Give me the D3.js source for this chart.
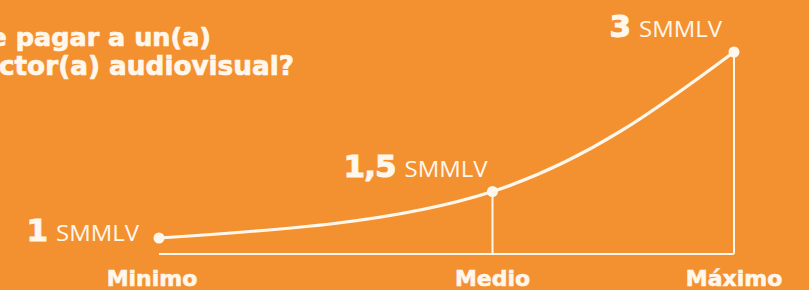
<!DOCTYPE html>
<html>
<head>
<meta charset="utf-8">
<script src="https://cdn.jsdelivr.net/npm/d3@7"></script>
<style>
  html, body { margin: 0; padding: 0; background: #F39130; }
  svg { display: block; }
</style>
</head>
<body>
<svg id="chart" width="809" height="290"></svg>
<script>
// ---- data ----
const categories = ["Minimo", "Medio", "Máximo"];
const values = [1, 1.5, 3];
const valueLabels = ["1", "1,5", "3"];
const unitLabel = "SMMLV";
const stagePosition = [0, 0.58, 1];   // relative place of each stage along the axis
const titleLines = ["¿Cuánto se debe pagar a un(a)", "director(a) audiovisual?"];

// ---- layout ----
const W = 809, H = 290;
const bg = "#F39130", ink = "#FFF7EC";
const baseY = 254;
const svg = d3.select("#chart");
svg.append("rect").attr("width", W).attr("height", H).attr("fill", bg);

const x = d3.scaleLinear().domain([0, 1]).range([159, 734]);
const y = d3.scaleLinear().domain([1, 3]).range([238, 52]);

const pts = values.map((v, i) => ({ v, i, px: x(stagePosition[i]), py: y(v) }));

// title (cut off at the left edge, as in the original crop)
const title = svg.append("g")
  .attr("font-family", "'DejaVu Sans', sans-serif")
  .attr("font-weight", "bold")
  .attr("fill", ink)
  .attr("stroke", ink)
  .attr("stroke-width", 0.7)
  .attr("stroke-linejoin", "round")
  .attr("text-anchor", "end");
title.append("text").attr("x", 211).attr("y", 46).attr("font-size", 25.5).text(titleLines[0]);
title.append("text").attr("x", 294).attr("y", 75).attr("font-size", 26.3).text(titleLines[1]);

// baseline
svg.append("line")
  .attr("x1", x(0)).attr("x2", x(1))
  .attr("y1", baseY).attr("y2", baseY)
  .attr("stroke", ink).attr("stroke-width", 2);

// drop lines
svg.selectAll("line.drop").data(pts.filter(d => d.i > 0)).join("line")
  .attr("class", "drop")
  .attr("x1", d => d.px).attr("x2", d => d.px)
  .attr("y1", d => d.py).attr("y2", baseY)
  .attr("stroke", ink).attr("stroke-width", 2);

// curve
const line = d3.line().x(d => d.px).y(d => d.py).curve(d3.curveNatural);
svg.append("path").datum(pts)
  .attr("d", line)
  .attr("fill", "none")
  .attr("stroke", ink)
  .attr("stroke-width", 3.2)
  .attr("stroke-linecap", "round");

// dots
svg.selectAll("circle").data(pts).join("circle")
  .attr("cx", d => d.px).attr("cy", d => d.py).attr("r", 5.5)
  .attr("fill", ink);

// value labels
const lbl = svg.selectAll("text.val").data(pts).join("text")
  .attr("class", "val")
  .attr("text-anchor", "end")
  .attr("fill", ink)
  .attr("x", d => d.i === 0 ? d.px - 20 : d.px - (d.i === 1 ? 5 : 12))
  .attr("y", d => d.i === 0 ? d.py + 3 : d.py - 15);
lbl.append("tspan")
  .attr("font-family", "'DejaVu Sans', sans-serif")
  .attr("font-weight", "bold")
  .attr("font-size", 31)
  .attr("stroke", ink)
  .attr("stroke-width", 1)
  .attr("letter-spacing", -1)
  .text(d => valueLabels[d.i]);
lbl.append("tspan")
  .attr("dx", 9)
  .attr("font-family", "'Open Sans', sans-serif")
  .attr("font-weight", 400)
  .attr("font-size", 21)
  .attr("textLength", 83)
  .attr("lengthAdjust", "spacingAndGlyphs")
  .text(unitLabel);

// category labels
svg.selectAll("text.cat").data(pts).join("text")
  .attr("class", "cat")
  .attr("x", d => d.i === 0 ? d.px - 7 : d.px)
  .attr("y", 286)
  .attr("text-anchor", "middle")
  .attr("font-family", "'DejaVu Sans', sans-serif")
  .attr("font-weight", "bold")
  .attr("font-size", 22)
  .attr("fill", ink)
  .attr("stroke", ink)
  .attr("stroke-width", 0.6)
  .text(d => categories[d.i]);
</script>
</body>
</html>
